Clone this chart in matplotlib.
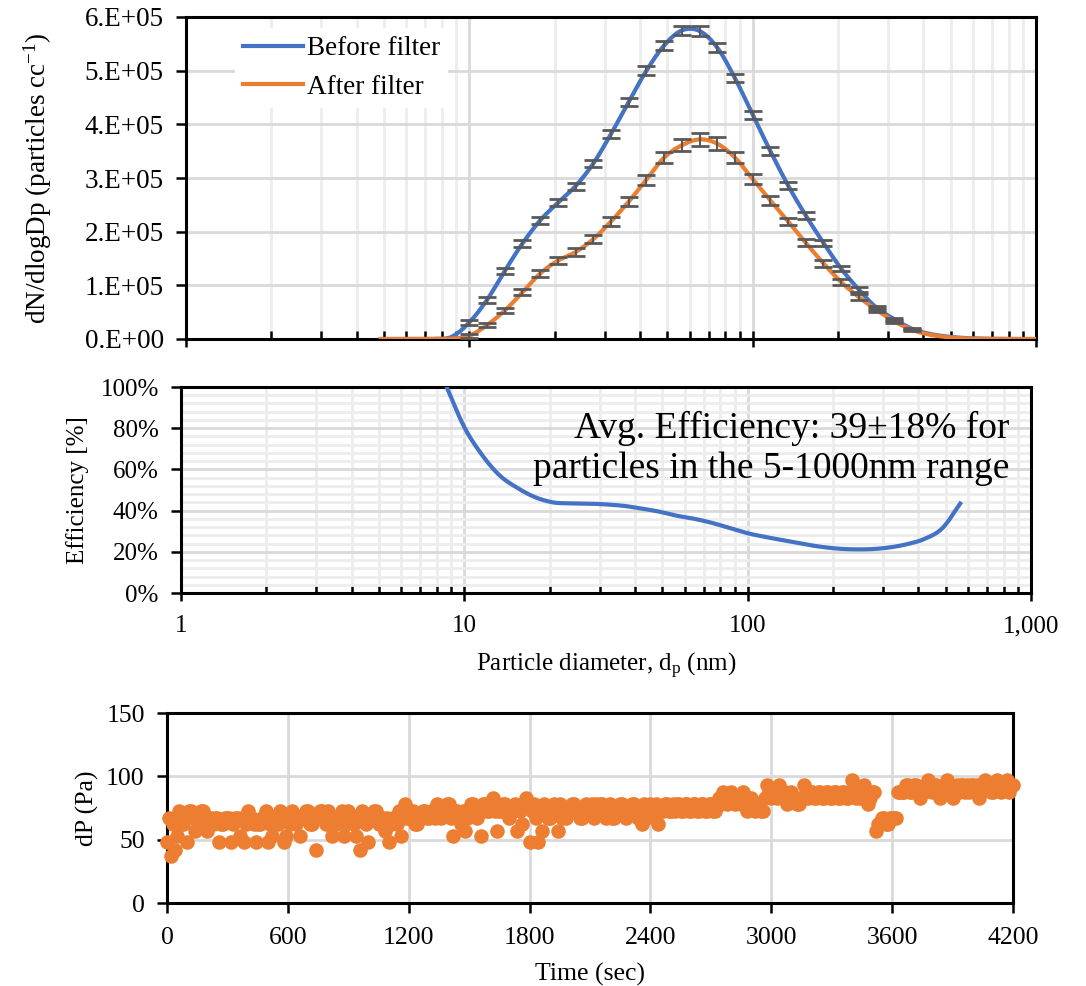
import numpy as np
import matplotlib
matplotlib.use("Agg")
from matplotlib import pyplot as plt
from matplotlib.ticker import FixedLocator, MultipleLocator, LogLocator, NullFormatter

plt.rcParams['font.family'] = ['Liberation Serif', 'DejaVu Serif']
plt.rcParams['mathtext.default'] = 'regular'

BLUE = '#4472C4'
ORANGE = '#ED7D31'
GRID = '#d9d9d9'
GRID_MINOR = '#ededed'

# particle size bins (nm)
diam = [4.87, 5.62, 6.49, 7.50, 8.66, 10.0, 11.55, 13.34, 15.40, 17.78,
        20.54, 23.71, 27.38, 31.62, 36.52, 42.17, 48.70, 56.23, 64.94, 74.99,
        86.60, 100.0, 115.5, 133.4, 154.0, 177.8, 205.4, 237.1, 273.8, 316.2,
        365.2, 421.7, 487.0, 562.3, 649.4, 749.9, 866.0, 1000.0]

before = [0, 0, 0, 300, 4000, 31000, 73000, 127000, 178000, 221000,
          254000, 285000, 327000, 382000, 442000, 500000, 547000, 575000, 574000, 543000,
          486000, 418000, 350000, 286000, 230000, 179000, 131000, 92000, 58000, 37000,
          19000, 9500, 4500, 1800, 600, 200, 0, 0]
before_err = [0, 0, 0, 0, 0, 4000, 5000, 5500, 6000, 6000,
              6500, 6500, 7000, 7000, 7500, 8000, 8500, 9000, 9000, 8500,
              8000, 7500, 7000, 6500, 6000, 5500, 5000, 4500, 3500, 3000,
              2000, 0, 0, 0, 0, 0, 0, 0]

after = [0, 0, 0, 0, 500, 6000, 26000, 53000, 87000, 122000,
         146000, 162000, 186000, 219000, 256000, 297000, 338000, 361000, 372000, 364000,
         338000, 298000, 258000, 219000, 179000, 141000, 106000, 78000, 54000, 33000,
         17000, 8000, 3500, 1200, 400, 100, 0, 0]
after_err = [0, 0, 0, 0, 0, 3500, 4500, 5000, 5500, 6000,
             6500, 7000, 7500, 8000, 8500, 9500, 10500, 11500, 12000, 11500,
             10000, 9000, 8000, 7000, 6500, 6000, 5500, 5000, 4000, 3000,
             2000, 0, 0, 0, 0, 0, 0, 0]

# filtration efficiency (%)
eff_diam = diam[4:34]
efficiency = [100, 80.5, 67, 57, 51, 46.5, 44, 43.5, 43.4, 43,
              42.3, 41, 39.5, 37.5, 36, 34, 31.5, 29, 27.2, 25.6,
              24, 22.6, 21.6, 21.2, 21.3, 22.1, 23.7, 26.3, 31.5, 43.4]

# pressure drop over the run, one reading every 10 s
time_s = list(range(0, 4201, 10))
dp = [48, 67, 37, 62, 42, 53, 73, 62, 62, 67, 48, 73, 73, 67, 57, 67, 67, 73, 73, 62,
      57, 67, 67, 62, 67, 67, 48, 62, 62, 67, 67, 67, 48, 62, 67, 67, 53, 67, 48, 62,
      73, 67, 67, 62, 48, 62, 62, 67, 67, 73, 48, 62, 53, 67, 67, 62, 73, 67, 48, 53,
      67, 62, 73, 67, 62, 67, 53, 67, 67, 73, 73, 62, 62, 67, 42, 67, 73, 73, 67, 62,
      73, 67, 53, 62, 62, 67, 67, 73, 53, 62, 73, 67, 67, 62, 53, 67, 42, 73, 67, 62,
      48, 67, 67, 73, 73, 62, 62, 67, 57, 67, 48, 62, 67, 67, 62, 73, 53, 67, 78, 67,
      67, 73, 73, 62, 62, 67, 67, 73, 73, 67, 67, 73, 73, 67, 78, 73, 67, 73, 73, 78,
      78, 67, 53, 73, 73, 67, 62, 73, 57, 67, 73, 78, 78, 73, 67, 73, 53, 78, 78, 73,
      73, 78, 83, 73, 57, 73, 73, 78, 78, 73, 67, 73, 73, 78, 57, 73, 62, 78, 83, 78,
      48, 73, 78, 67, 48, 73, 57, 78, 73, 67, 67, 73, 78, 73, 57, 78, 67, 73, 67, 73,
      73, 78, 78, 73, 73, 67, 67, 73, 78, 73, 73, 78, 67, 78, 73, 78, 78, 73, 67, 73,
      78, 67, 67, 73, 73, 78, 78, 73, 67, 73, 73, 78, 78, 73, 67, 73, 62, 78, 67, 73,
      78, 73, 73, 78, 62, 73, 73, 78, 78, 73, 73, 78, 73, 78, 78, 73, 73, 78, 78, 73,
      73, 78, 78, 73, 73, 78, 78, 73, 73, 78, 78, 73, 73, 78, 83, 78, 88, 83, 78, 83,
      88, 83, 78, 83, 83, 78, 88, 83, 73, 78, 83, 78, 73, 78, 78, 73, 73, 83, 93, 88,
      83, 88, 88, 83, 93, 88, 83, 88, 78, 83, 88, 83, 83, 78, 78, 83, 93, 88, 83, 88,
      88, 83, 83, 88, 88, 83, 83, 88, 88, 83, 83, 88, 88, 83, 83, 88, 88, 83, 83, 88,
      97, 88, 83, 88, 83, 88, 93, 88, 78, 83, 88, 88, 57, 62, 62, 67, 67, 62, 62, 67,
      67, 67, 67, 88, 88, 88, 88, 93, 93, 88, 88, 93, 93, 88, 83, 88, 88, 93, 97, 93,
      88, 93, 93, 88, 83, 88, 93, 97, 88, 93, 83, 88, 93, 88, 93, 93, 88, 93, 88, 93,
      93, 88, 93, 83, 88, 93, 97, 93, 93, 88, 88, 93, 97, 93, 88, 93, 93, 97, 88, 93,
      93]


def smooth(x, y, n=12):
    # Catmull-Rom curve through the points (like Excel's smoothed line), in log-x
    lx = np.log10(np.asarray(x, float))
    y = np.asarray(y, float)
    lxp = np.r_[2 * lx[0] - lx[1], lx, 2 * lx[-1] - lx[-2]]
    yp = np.r_[2 * y[0] - y[1], y, 2 * y[-1] - y[-2]]
    t = np.linspace(0, 1, n, endpoint=False)[:, None]

    def cr(p):
        p0, p1, p2, p3 = p[:-3], p[1:-2], p[2:-1], p[3:]
        return 0.5 * (2 * p1 + (-p0 + p2) * t + (2 * p0 - 5 * p1 + 4 * p2 - p3) * t ** 2
                      + (-p0 + 3 * p1 - 3 * p2 + p3) * t ** 3)

    sx = np.r_[cr(lxp).T.ravel(), lx[-1]]
    sy = np.r_[cr(yp).T.ravel(), y[-1]]
    return 10 ** sx, sy


def log_axis(ax):
    ax.set_xscale('log')
    ax.set_xlim(1, 1000)
    ax.xaxis.set_major_locator(FixedLocator([1, 10, 100, 1000]))
    ax.xaxis.set_minor_locator(LogLocator(base=10, subs=range(2, 10), numticks=20))
    ax.xaxis.set_minor_formatter(NullFormatter())
    ax.grid(True, which='major', color=GRID, lw=2, zorder=0)
    ax.grid(True, which='minor', axis='x', color=GRID_MINOR, lw=2, zorder=0)
    ax.tick_params(axis='x', which='major', direction='inout', length=12, width=1.8)
    ax.tick_params(axis='x', which='minor', direction='in', length=6, width=1.8)
    ax.tick_params(axis='y', which='major', direction='out', length=7, width=1.8)
    for s in ax.spines.values():
        s.set_linewidth(2.2)
    ax.set_axisbelow(True)


W, H = 1086, 986
fig = plt.figure(figsize=(W / 100, H / 100), dpi=100)

# size distribution
ax1 = fig.add_axes([186 / W, 1 - 339 / H, 850 / W, 322 / H])
log_axis(ax1)
ax1.set_ylim(0, 600000)
ax1.set_yticks(range(0, 600001, 100000))
ax1.set_yticklabels(['0.E+00', '1.E+05', '2.E+05', '3.E+05', '4.E+05', '5.E+05', '6.E+05'])
ax1.tick_params(axis='y', labelsize=19.5, pad=9)
ax1.tick_params(axis='x', labelbottom=False)
sx, sy = smooth(diam, before)
ax1.plot(sx, sy, color=BLUE, lw=3, label='Before filter', zorder=3)
sx, sy = smooth(diam, after)
ax1.plot(sx, sy, color=ORANGE, lw=3, label='After filter', zorder=3)
for vals, errs in [(before, before_err), (after, after_err)]:
    d = [a for a, e in zip(diam, errs) if e > 0]
    v = [a for a, e in zip(vals, errs) if e > 0]
    e = [e for e in errs if e > 0]
    ax1.errorbar(d, v, yerr=e, fmt='none', ecolor='#595959', elinewidth=1.5,
                 capsize=6.5, capthick=2, zorder=4)
ax1.set_ylabel('dN/dlogDp (particles cc$^{-1}$)', fontsize=19.5, labelpad=22)
leg = ax1.legend(loc='upper left', bbox_to_anchor=(0.058, 0.965), fontsize=19.5,
                 frameon=True, fancybox=False, handlelength=2.2, handletextpad=0.15,
                 borderaxespad=0, borderpad=0.3, labelspacing=0.5)
leg.get_frame().set_edgecolor('none')
leg.get_frame().set_facecolor('white')
leg.get_frame().set_alpha(1)

# efficiency
ax2 = fig.add_axes([181 / W, 1 - 593 / H, 850 / W, 206 / H])
log_axis(ax2)
ax2.set_ylim(0, 100)
ax2.set_yticks(range(0, 101, 20))
ax2.set_yticklabels([f'{v}%' for v in range(0, 101, 20)])
ax2.yaxis.set_minor_locator(MultipleLocator(4))
ax2.grid(True, which='minor', axis='y', color=GRID_MINOR, lw=2, zorder=0)
ax2.tick_params(axis='y', which='minor', length=0)
ax2.tick_params(axis='y', which='major', labelsize=18, pad=9)
ax2.set_xticklabels(['1', '10', '100', '1,000'])
ax2.tick_params(axis='x', which='major', labelsize=18, pad=10)
sx, sy = smooth(eff_diam, efficiency)
ax2.plot(sx, sy, color=BLUE, lw=3, zorder=3)
ax2.set_ylabel('Efficiency [%]', fontsize=18, labelpad=8)
ax2.set_xlabel('Particle diameter, d$_p$ (nm)', fontsize=18, labelpad=10)
ax2.text(0.975, 0.70, 'Avg. Efficiency: 39\u00b118% for\nparticles in the 5-1000nm range',
         transform=ax2.transAxes, ha='right', va='center', fontsize=27, linespacing=1.2)

# pressure drop
ax3 = fig.add_axes([167 / W, 1 - 903 / H, 846 / W, 190 / H])
ax3.scatter(time_s, dp, s=110, color=ORANGE, linewidths=0, zorder=3, clip_on=False)
ax3.set_xlim(0, 4200)
ax3.set_ylim(0, 150)
ax3.set_xticks(range(0, 4201, 600))
ax3.set_yticks(range(0, 151, 50))
ax3.grid(True, color=GRID, lw=2, zorder=0)
ax3.set_axisbelow(True)
ax3.tick_params(direction='out', length=7, width=1.8, labelsize=18.5)
ax3.tick_params(axis='x', pad=10)
ax3.tick_params(axis='y', pad=9)
for s in ax3.spines.values():
    s.set_linewidth(2.2)
ax3.set_xlabel('Time (sec)', fontsize=18.5, labelpad=10)
ax3.set_ylabel('dP (Pa)', fontsize=18.5, labelpad=5)

fig.savefig('out.png', dpi=100)
